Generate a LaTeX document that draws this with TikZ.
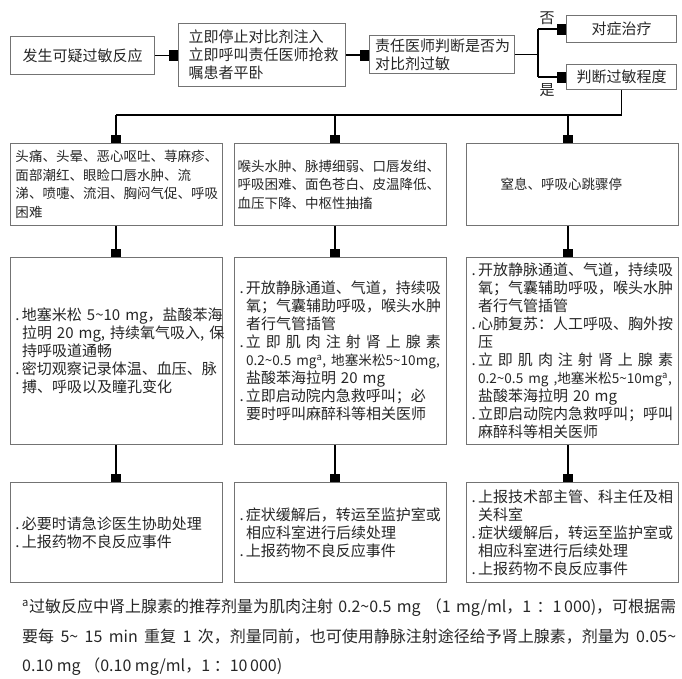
\documentclass[tikz,border=0pt]{standalone}
\usepackage{fontspec}
\setmainfont{Noto Sans CJK SC}
\usepackage{tikz}
\usetikzlibrary{positioning,arrows.meta}
\definecolor{framegray}{gray}{0.45}
\tikzset{box/.style = {draw=framegray,line width=1pt,anchor=north west,inner ysep=0pt,text=black!85},
         topbox/.style = {box,font=\fontsize{15pt}{18pt}\selectfont,align=center,inner xsep=0pt},
         colbox/.style = {box,inner xsep=5pt,align=left,text width=202pt,minimum width=212pt,minimum height=#1},
         lbl/.style = {inner sep=0pt,text=black!85,font=\fontsize{15pt}{18pt}\selectfont},
         hlink/.style = {line width=1.1pt,-{Square[length=9pt,width=11pt]}},
         vlink/.style = {line width=1.1pt,-{Square[length=8pt,width=10pt]}}}
\newcommand{\dotline}[1]{\mbox{\makebox[6.5pt][l]{.}#1}}
\newcommand{\moreline}[1]{\mbox{\hspace*{6.5pt}#1}}
\newcommand{\tild}{\textasciitilde}
\newcommand{\rowone}{\fontsize{13.5pt}{18.5pt}\selectfont}
\newcommand{\rowtwo}{\fontsize{15pt}{18pt}\selectfont}
\newcommand{\narrow}{\fontsize{13.6pt}{18pt}\selectfont}

\begin{document}
\begin{tikzpicture}[x=1pt,y=-1pt]
        \useasboundingbox (0,0) rectangle (682,678);
        % first decisions
        \node[topbox,minimum width=144pt,minimum height=38pt] (onset) at (10,36) {发生可疑过敏反应};
        \node[topbox,align=left,inner xsep=10pt,text width=147pt,minimum height=63pt] (stop) at (178,23)
            {立即停止对比剂注入\\立即呼叫责任医师抢救\\嘱患者平卧};
        \node[topbox,align=left,inner xsep=5.5pt,text width=134pt,minimum height=38pt] (judge) at (369,35)
            {责任医师判断是否为\\对比剂过敏};
        \node[topbox,minimum width=110pt,minimum height=27pt] (treat) at (566,15) {对症治疗};
        \node[topbox,minimum width=110pt,minimum height=25pt] (grade) at (566,64) {判断过敏程度};
        \node[lbl] (notxt) at (547,18) {否};
        \node[lbl] (yestxt) at (547,90) {是};
        \coordinate (fork) at (538,54);
        \draw[hlink] (onset.east) -- (onset.east -| stop.west);
        \draw[hlink] (stop.east) -- (stop.east -| judge.west);
        \draw[line width=1.1pt] (judge.east) -- (judge.east -| fork);
        \draw[line width=1.1pt] (fork |- treat.west) -- (fork |- grade.west);
        \draw[hlink] (fork |- treat.west) -- (treat.west);
        \draw[hlink] (fork |- grade.west) -- (grade.west);
        % three grades
        \coordinate (kA) at (116,115);
        \coordinate (kB) at (335,115);
        \coordinate (kC) at (568,115);
        \draw[line width=1.1pt] (grade.south) |- (kA);
        \node[colbox=82pt,font=\rowone] (sympA) at (10,143)
            {头痛、头晕、恶心呕吐、荨麻疹、\\面部潮红、眼睑口唇水肿、流\\涕、喷嚏、流泪、胸闷气促、呼吸\\困难};
        \node[colbox=82pt,font=\rowone,inner xsep=3pt,text width=206pt] (sympB) at (234,143)
            {喉头水肿、脉搏细弱、口唇发绀、\\呼吸困难、面色苍白、皮温降低、\\血压下降、中枢性抽搐};
        \node[colbox=82pt,font=\rowone,inner xsep=34pt,text width=144pt] (sympC) at (466,143)
            {窒息、呼吸心跳骤停};
        \node[colbox=187pt,font=\rowtwo] (actA) at (10,257)
            {\dotline{地塞米松 5\tild10 mg，盐酸苯海}\\
             \moreline{拉明 20 mg, 持续氧气吸入, 保}\\
             \moreline{持呼吸道通畅}\\
             \dotline{密切观察记录体温、血压、脉}\\
             \moreline{搏、呼吸以及瞳孔变化}};
        \node[colbox=187pt,font=\rowtwo] (actB) at (234,257)
            {\dotline{开放静脉通道、气道，持续吸}\\
             \moreline{氧；气囊辅助呼吸，喉头水肿}\\
             \moreline{者行气管插管}\\
             \dotline{\makebox[195pt][s]{立 即 肌 肉 注 射 肾 上 腺 素}}\\
             \moreline{\narrow 0.2\tild0.5 mg\textsuperscript{a}, 地塞米松5\tild10mg,}\\
             \moreline{盐酸苯海拉明 20 mg}\\
             \dotline{立即启动院内急救呼叫；必}\\
             \moreline{要时呼叫麻醉科等相关医师}};
        \node[colbox=187pt,font=\rowtwo] (actC) at (466,257)
            {\dotline{开放静脉通道、气道，持续吸}\\
             \moreline{氧；气囊辅助呼吸，喉头水肿}\\
             \moreline{者行气管插管}\\
             \dotline{心肺复苏：人工呼吸、胸外按}\\
             \moreline{压}\\
             \dotline{\makebox[195pt][s]{立 即 肌 肉 注 射 肾 上 腺 素}}\\
             \moreline{\narrow 0.2\tild0.5 mg ,地塞米松5\tild10mg\textsuperscript{a},}\\
             \moreline{盐酸苯海拉明 20 mg}\\
             \dotline{立即启动院内急救呼叫；呼叫}\\
             \moreline{麻醉科等相关医师}};
        \node[colbox=100pt,font=\rowtwo] (followA) at (10,482)
            {\dotline{必要时请急诊医生协助处理}\\
             \dotline{上报药物不良反应事件}};
        \node[colbox=100pt,font=\rowtwo] (followB) at (234,482)
            {\dotline{症状缓解后，转运至监护室或}\\
             \moreline{相应科室进行后续处理}\\
             \dotline{上报药物不良反应事件}};
        \node[colbox=100pt,font=\rowtwo] (followC) at (466,482)
            {\dotline{上报技术部主管、科主任及相}\\
             \moreline{关科室}\\
             \dotline{症状缓解后，转运至监护室或}\\
             \moreline{相应科室进行后续处理}\\
             \dotline{上报药物不良反应事件}};
        \draw[vlink] (kA) -- (kA |- sympA.north);
        \draw[vlink] (kB) -- (kB |- sympB.north);
        \draw[vlink] (kC) -- (kC |- sympC.north);
        \draw[vlink] (kA |- sympA.south) -- (kA |- actA.north);
        \draw[vlink] (kB |- sympB.south) -- (kB |- actB.north);
        \draw[vlink] (kC |- sympC.south) -- (kC |- actC.north);
        \draw[vlink] (kA |- actA.south) -- (kA |- followA.north);
        \draw[vlink] (kB |- actB.south) -- (kB |- followB.north);
        \draw[vlink] (kC |- actC.south) -- (kC |- followC.north);
        % footnote
        \node[anchor=north west,inner sep=0pt,align=left,text=black!85,font=\fontsize{16pt}{29.5pt}\selectfont] (note) at (22,599)
            {\makebox[654pt][s]{\textsuperscript{a}过敏反应中肾上腺素的推荐剂量为肌肉注射 0.2\tild0.5 mg （1 mg/ml，1 ：1\,000)，可根据需}\\
             \makebox[654pt][s]{要每 5\tild{} 15 min 重复 1 次，剂量同前，也可使用静脉注射途径给予肾上腺素，剂量为 0.05\tild}\\
             0.10 mg （0.10 mg/ml，1 ：10\,000)};
\end{tikzpicture}
\end{document}
